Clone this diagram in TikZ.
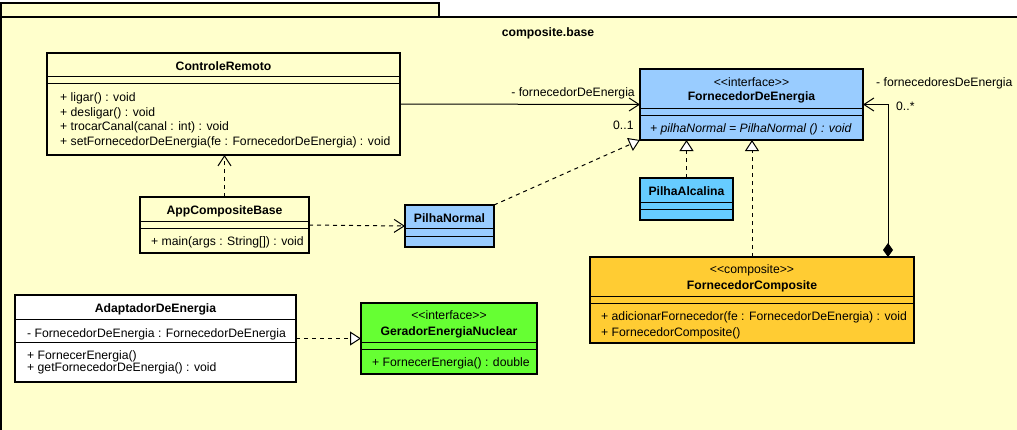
\documentclass[tikz,border=0pt]{standalone}
\usepackage{fontspec}
\setmainfont{Liberation Sans}
\usetikzlibrary{arrows.meta}

\definecolor{pkgfill}{HTML}{FFFFCC}
\definecolor{ifblue}{HTML}{99CCFF}
\definecolor{alcblue}{HTML}{66CCFF}
\definecolor{compfill}{HTML}{FFCC33}
\definecolor{nucgreen}{HTML}{66FF33}

% guillemet-free stereotype markers
\newcommand\stereo[1]{<{}<#1>{}>}

\begin{document}
\begin{tikzpicture}[x=1pt, y=-1pt,
  font=\fontsize{12.2}{14}\selectfont,
  cls/.style={draw, rectangle, line width=2pt, inner sep=0pt, outer sep=0pt},
  sep/.style={line width=1pt},
  txt/.style={inner sep=0pt, anchor=base},
  txtl/.style={inner sep=0pt, anchor=base west},
  assoc/.style={line width=1pt, -{Straight Barb[length=10pt, width=13pt, line width=1pt]}},
  depend/.style={line width=1pt, dash pattern=on 4pt off 4pt, -{Straight Barb[length=10pt, width=13pt, line width=1pt]}},
  realize/.style={line width=1pt, dash pattern=on 4pt off 4pt, -{Triangle[length=11pt, width=14pt, line width=1pt, fill=white]}},
  compose/.style={line width=1pt, {Diamond[length=14pt, width=10pt]}-{Straight Barb[length=10pt, width=13pt, line width=1pt]}}
]
\useasboundingbox (0,0) rectangle (1017,429);
\clip (0,0) rectangle (1017,429);
\fill[white] (0,0) rectangle (1017,429);

% package frame
\draw[line width=2pt, fill=pkgfill] (1,3) rectangle (439,17);
\fill[pkgfill] (1,17) rectangle (1030,440);
\draw[line width=2pt] (1,440) -- (1,17) -- (1030,17);
\node[txt] (pkgname) at (548,36) {\bfseries composite.base};

% ControleRemoto
\node[cls, fill=pkgfill, minimum width=353pt, minimum height=102pt] (cr) at (223.5,104) {};
\draw[sep] (cr.west |- 0,76) -- (cr.east |- 0,76);
\draw[sep] (cr.west |- 0,83) -- (cr.east |- 0,83);
\node[txt] (cr-name) at (223.5,70) {\bfseries ControleRemoto};
\node[txtl] (cr-m1) at (60,101.5) {+ ligar() : void};
\node[txtl] (cr-m2) at (60,116) {+ desligar() : void};
\node[txtl] (cr-m3) at (60,130.5) {+ trocarCanal(canal : int) : void};
\node[txtl] (cr-m4) at (60,145) {+ setFornecedorDeEnergia(fe : FornecedorDeEnergia) : void};

% FornecedorDeEnergia
\node[cls, fill=ifblue, minimum width=223pt, minimum height=71pt] (fe) at (751.5,104.5) {};
\draw[sep] (fe.west |- 0,108) -- (fe.east |- 0,108);
\draw[sep] (fe.west |- 0,115) -- (fe.east |- 0,115);
\node[txt] (fe-st) at (751.5,86) {\stereo{interface}};
\node[txt] (fe-name) at (751.5,100) {\bfseries FornecedorDeEnergia};
\node[txtl] (fe-m1) at (650,132) {\itshape + pilhaNormal = PilhaNormal () : void};

% PilhaAlcalina
\node[cls, fill=alcblue, minimum width=93pt, minimum height=42pt] (pa) at (686.5,199) {};
\draw[sep] (pa.west |- 0,202) -- (pa.east |- 0,202);
\draw[sep] (pa.west |- 0,209) -- (pa.east |- 0,209);
\node[txt] (pa-name) at (686.5,195) {\bfseries PilhaAlcalina};

% PilhaNormal
\node[cls, fill=ifblue, minimum width=89pt, minimum height=42pt] (pn) at (449.5,226) {};
\draw[sep] (pn.west |- 0,228) -- (pn.east |- 0,228);
\draw[sep] (pn.west |- 0,236) -- (pn.east |- 0,236);
\node[txt] (pn-name) at (449.5,222) {\bfseries PilhaNormal};

% AppCompositeBase
\node[cls, fill=pkgfill, minimum width=169pt, minimum height=56pt] (app) at (224.5,225) {};
\draw[sep] (app.west |- 0,221) -- (app.east |- 0,221);
\draw[sep] (app.west |- 0,228) -- (app.east |- 0,228);
\node[txt] (app-name) at (224.5,214) {\bfseries AppCompositeBase};
\node[txtl] (app-m1) at (151,245) {+ main(args : String[]) : void};

% FornecedorComposite
\node[cls, fill=compfill, minimum width=324pt, minimum height=86pt] (fc) at (752,300) {};
\draw[sep] (fc.west |- 0,296) -- (fc.east |- 0,296);
\draw[sep] (fc.west |- 0,303) -- (fc.east |- 0,303);
\node[txt] (fc-st) at (752,273) {\stereo{composite}};
\node[txt] (fc-name) at (752,289) {\bfseries FornecedorComposite};
\node[txtl] (fc-m1) at (601,320) {+ adicionarFornecedor(fe : FornecedorDeEnergia) : void};
\node[txtl] (fc-m2) at (601,336) {+ FornecedorComposite()};

% AdaptadorDeEnergia
\node[cls, fill=white, minimum width=281pt, minimum height=87pt] (ad) at (155.5,338.5) {};
\draw[sep] (ad.west |- 0,319) -- (ad.east |- 0,319);
\draw[sep] (ad.west |- 0,342) -- (ad.east |- 0,342);
\node[txt] (ad-name) at (155.5,312) {\bfseries AdaptadorDeEnergia};
\node[txtl] (ad-a1) at (27,337) {- FornecedorDeEnergia : FornecedorDeEnergia};
\node[txtl] (ad-m1) at (27,359) {+ FornecerEnergia()};
\node[txtl] (ad-m2) at (27,371) {+ getFornecedorDeEnergia() : void};

% GeradorEnergiaNuclear
\node[cls, fill=nucgreen, minimum width=176pt, minimum height=71pt] (gn) at (449,338.5) {};
\draw[sep] (gn.west |- 0,342) -- (gn.east |- 0,342);
\draw[sep] (gn.west |- 0,349) -- (gn.east |- 0,349);
\node[txt] (gn-st) at (449,319) {\stereo{interface}};
\node[txt] (gn-name) at (449,335) {\bfseries GeradorEnergiaNuclear};
\node[txtl] (gn-m1) at (372,366) {+ FornecerEnergia() : double};

% connectors
\draw[assoc] (cr.east) -- (fe.west);
\node[inner sep=0pt, anchor=base east] (lbl-fe) at (635,96) {- fornecedorDeEnergia};
\node[txtl] (lbl-01) at (613,129) {0..1};

\draw[depend] (app.north) -- (app.north |- cr.south);
\draw[depend] (app.east) -- (pn.west);
\draw[realize] (pn.north east) -- (fe.south west);
\draw[realize] (pa.north) -- (pa.north |- fe.south);
\draw[realize] (fc.north) -- (fc.north |- fe.south);
\draw[realize] (ad.east) -- (gn.west);

\coordinate (cp) at ([xshift=-26pt]fc.north east);
\draw[compose] (cp) |- (fe.east);
\node[txtl] (lbl-fes) at (876,86.5) {- fornecedoresDeEnergia};
\node[txtl] (lbl-0s) at (896,110) {0..*};
\end{tikzpicture}
\end{document}
